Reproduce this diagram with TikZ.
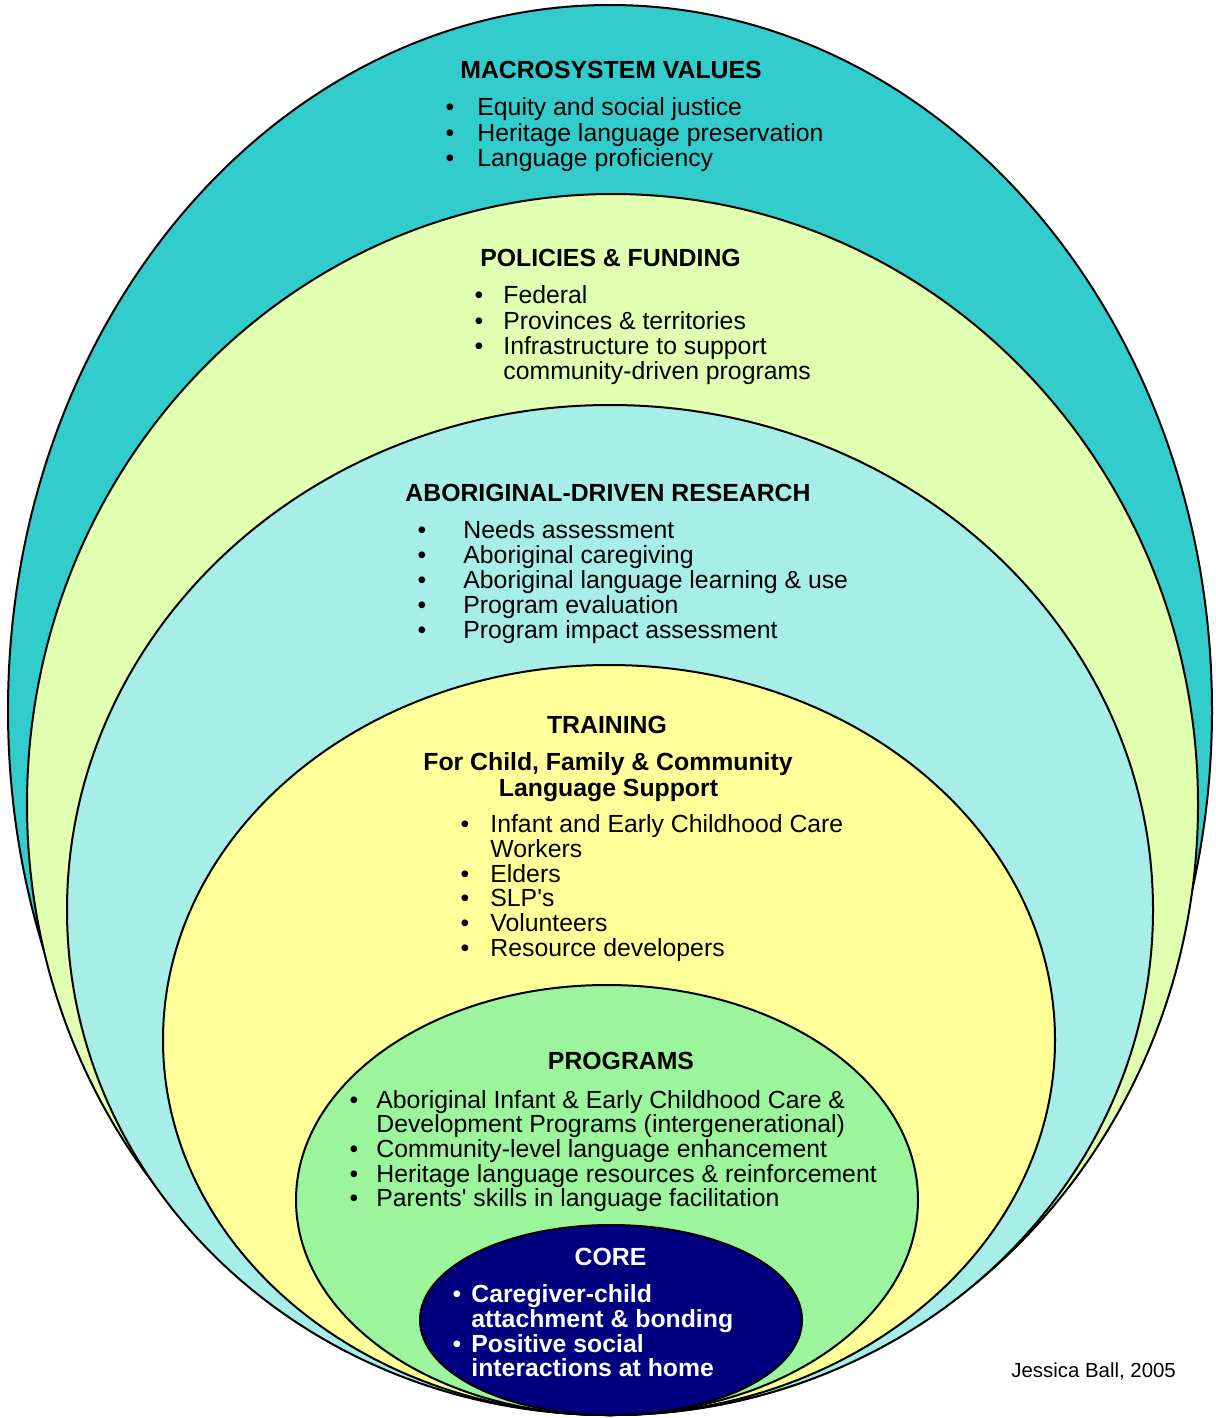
\documentclass[tikz,border=0pt]{standalone}
\usepackage{fontspec}
\setmainfont{Liberation Sans}
\definecolor{macro}{HTML}{33CCCC}
\definecolor{policy}{HTML}{E0FFB0}
\definecolor{research}{HTML}{A8EEE8}
\definecolor{train}{HTML}{FFFF99}
\definecolor{prog}{HTML}{9CF59C}
\definecolor{core}{HTML}{000080}
\newcommand{\ringfont}{\fontsize{12.4}{14}\selectfont}
\tikzset{
  ring/.style={draw=black, line width=1pt},
  head/.style={anchor=base, inner sep=0pt, font=\ringfont\bfseries},
  itm/.style={anchor=base west, inner sep=0pt},
  dot/.style={anchor=base, inner sep=0pt},
}
\begin{document}
\begin{tikzpicture}[x=0.5pt, y=-0.5pt, font=\ringfont, line join=round, line cap=round]
  \useasboundingbox (0,0) rectangle (1215,1418);
  \fill[white] (0,0) rectangle (1215,1418);
  % nested rings, outer first
  \draw[ring, fill=macro]    (610,710)    ellipse [x radius=301pt,   y radius=352.5pt];
  \draw[ring, fill=policy]   (612.5,804.5) ellipse [x radius=292.75pt, y radius=305.25pt];
  \draw[ring, fill=research] (610,910)    ellipse [x radius=271.5pt, y radius=252.5pt];
  \draw[ring, fill=train]    (609,1040)   ellipse [x radius=223pt,   y radius=187.5pt];
  \draw[ring, fill=prog]     (607,1200)   ellipse [x radius=155.5pt, y radius=107.5pt];
  \draw[ring, fill=core]     (611,1320)   ellipse [x radius=95.5pt,  y radius=47.5pt];

  % macrosystem
  \node[head] (macro) at (611,79) {MACROSYSTEM VALUES};
  \foreach \y/\txt [count=\i] in {116/Equity and social justice, 141/Heritage language preservation, 166/Language proficiency}
    {\node[dot] (mb\i) at (450,\y) {•}; \node[itm] (mt\i) at (477,\y) {\txt};}

  % policies
  \node[head] (policy) at (610.5,266) {POLICIES \& FUNDING};
  \foreach \y/\txt [count=\i] in {303/Federal, 329/Provinces \& territories, 354/Infrastructure to support}
    {\node[dot] (pb\i) at (479,\y) {•}; \node[itm] (pt\i) at (503,\y) {\txt};}
  \node[itm] (pt4) at (503,379) {community-driven programs};

  % research
  \node[head] (research) at (608,501) {ABORIGINAL-DRIVEN RESEARCH};
  \foreach \y/\txt [count=\i] in {538/Needs assessment, 563/Aboriginal caregiving, 588/Aboriginal language learning \& use, 613/Program evaluation, 638/Program impact assessment}
    {\node[dot] (rb\i) at (422,\y) {•}; \node[itm] (rt\i) at (463,\y) {\txt};}

  % training
  \node[head] (train) at (607,733) {TRAINING};
  \node[head] (sub1) at (608,770) {For Child, Family \& Community};
  \node[head] (sub2) at (608.5,796) {Language Support};
  \foreach \y/\txt [count=\i] in {832/Infant and Early Childhood Care, 882/Elders, 906/SLP\textquotesingle s, 931/Volunteers, 956/Resource developers}
    {\node[dot] (tb\i) at (465,\y) {•}; \node[itm] (tt\i) at (490,\y) {\txt};}
  \node[itm] (tt6) at (490,857) {Workers};

  % programs
  \node[head] (prog) at (621,1069) {PROGRAMS};
  \foreach \y/\txt [count=\i] in {1108/Aboriginal Infant \& Early Childhood Care \&, 1157/Community-level language enhancement, 1182/Heritage language resources \& reinforcement, 1206/Parents\textquotesingle{} skills in language facilitation}
    {\node[dot] (gb\i) at (354,\y) {•}; \node[itm] (gt\i) at (376,\y) {\txt};}
  \node[itm] (gt5) at (376,1132) {Development Programs (intergenerational)};

  % core
  \begin{scope}[text=white]
  \node[head] (core) at (610.5,1265) {CORE};
  \node[dot] (cb1) at (457,1302) {•};
  \node[itm, font=\ringfont\bfseries] (ct1) at (471,1302) {Caregiver-child};
  \node[itm, font=\ringfont\bfseries] (ct2) at (471,1327) {attachment \& bonding};
  \node[dot] (cb2) at (457,1352) {•};
  \node[itm, font=\ringfont\bfseries] (ct3) at (471,1352) {Positive social};
  \node[itm, font=\ringfont\bfseries] (ct4) at (471,1376) {interactions at home};
  \end{scope}

  \node[itm, font=\fontsize{10.2}{12}\selectfont] (credit) at (1011,1377) {Jessica Ball, 2005};
\end{tikzpicture}
\end{document}
